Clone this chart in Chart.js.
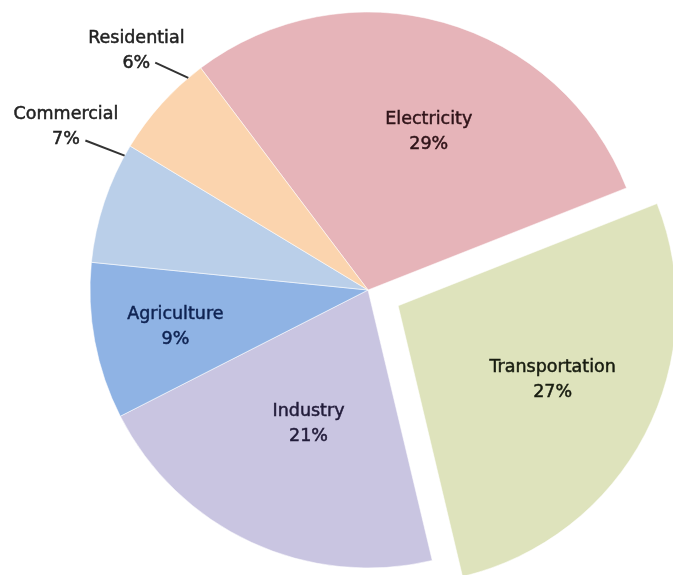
<!DOCTYPE html>
<html>
<head>
<meta charset="utf-8">
<script src="https://cdn.jsdelivr.net/npm/chart.js@4/dist/chart.umd.min.js"></script>
<style>
    html, body { margin: 0; padding: 0; background: #ffffff; }
    canvas { display: block; }
</style>
</head>
<body>
<canvas id="sourceChart" width="673" height="575"></canvas>
<script>
// Emissions by sector, percent
const sectors = ['Electricity', 'Transportation', 'Industry', 'Agriculture', 'Commercial', 'Residential']
const shares = [29, 27, 21, 9, 7, 6]

const sliceColors = ['#e6b4b9', '#dee3bc', '#c9c5e1', '#8fb3e4', '#bacfe9', '#fbd4ae']
const textColors = ['#301419', '#181c10', '#221c3a', '#0f2352', '#222222', '#222222']

// where each label sits inside its slice: t = fraction along the arc, r = fraction of the radius
// outside labels also get a leader line (slice edge -> elbow)
const labelSpots = [
    {t: 0.55, r: 0.61},
    {t: 0.48, r: 0.615},
    {t: 0.49, r: 0.525},
    {t: 0.50, r: 0.705},
    {t: 0.89, r: 1.235, lead: [{t: 0.91, r: 1.0}, {t: 0.87, r: 1.15}]},
    {t: 0.68, r: 1.20, lead: [{t: 0.85, r: 1.0}, {t: 0.72, r: 1.12}]}
]

//Writes name + percentage on each slice
const sliceLabels = {
    id: 'sliceLabels',
    afterDatasetsDraw(chart) {
        const ctx = chart.ctx
        const arcs = chart.getDatasetMeta(0).data
        ctx.save()
        ctx.font = '17.5px "DejaVu Sans", sans-serif'
        ctx.textAlign = 'center'
        ctx.textBaseline = 'middle'
        arcs.forEach((arc, i) => {
            const p = arc.getProps(['x', 'y', 'startAngle', 'endAngle', 'outerRadius'], true)
            // exploded slices are shifted the same way ArcElement.draw does it
            const mid = (p.startAngle + p.endAngle) / 2
            const off = (arc.options.offset || 0) / 4
            const fix = 1 - Math.sin(Math.min(Math.PI, p.endAngle - p.startAngle))
            const cx = p.x + Math.cos(mid) * off * (1 + fix)
            const cy = p.y + Math.sin(mid) * off * (1 + fix)
            const at = (spot) => {
                const a = p.startAngle + (p.endAngle - p.startAngle) * spot.t
                return [cx + Math.cos(a) * p.outerRadius * spot.r, cy + Math.sin(a) * p.outerRadius * spot.r]
            }
            const spot = labelSpots[i]
            if (spot.lead) {
                const [x1, y1] = at(spot.lead[0])
                const [x2, y2] = at(spot.lead[1])
                ctx.strokeStyle = '#333333'
                ctx.lineWidth = 2
                ctx.beginPath()
                ctx.moveTo(x1, y1)
                ctx.lineTo(x2, y2)
                ctx.stroke()
            }
            const [tx, ty] = at(spot)
            ctx.fillStyle = textColors[i]
            ctx.strokeStyle = textColors[i]
            ctx.lineWidth = 0.5
            ctx.fillText(sectors[i], tx, ty - 12)
            ctx.strokeText(sectors[i], tx, ty - 12)
            ctx.fillText(shares[i] + '%', tx, ty + 13)
            ctx.strokeText(shares[i] + '%', tx, ty + 13)
        })
        ctx.restore()
    }
}

const pieData = {
    labels: sectors,
    datasets: [{
        data: shares,
        backgroundColor: sliceColors,
        borderColor: 'rgba(255,255,255,0.55)',
        borderWidth: 1,
        offset: [0, 136, 0, 0, 0, 0],
        clip: false
    }]
}

const pieConfig = {
    type: 'pie',
    data: pieData,
    options: {
        responsive: false,
        animation: false,
        radius: 278,
        rotation: -37,
        layout: {
            padding: {left: 63, top: 5}
        },
        plugins: {
            legend: {display: false},
            tooltip: {enabled: false}
        }
    },
    plugins: [sliceLabels]
}

var sourceChart = new Chart(document.getElementById('sourceChart'), pieConfig)
</script>
</body>
</html>
